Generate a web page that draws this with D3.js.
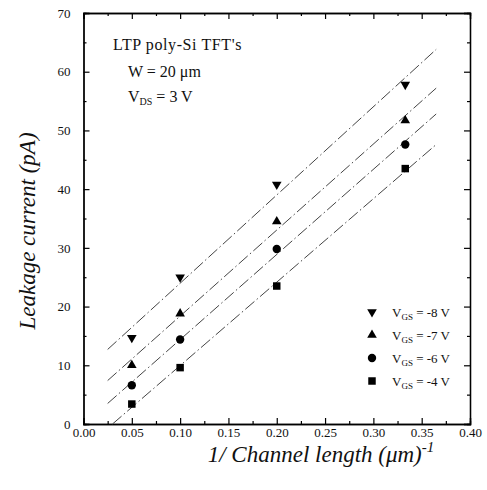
<!DOCTYPE html>
<html lang="en">
<head>
<meta charset="utf-8">
<title>Leakage current vs 1/L</title>
<script src="https://cdn.jsdelivr.net/npm/d3@7"></script>
<style>
  body { margin: 0; background: #fff; }
  text { font-family: "Liberation Serif", "Times New Roman", serif; }
</style>
</head>
<body>
<script>

// -- Data -- //

const invLength = [0.05, 0.10, 0.20, 0.333];
const seriesNames = ["-8 V", "-7 V", "-6 V", "-4 V"];
const leak8 = [14.7, 25.0, 40.8, 57.8];
const leak7 = [10.0, 18.8, 34.5, 51.7];
const leak6 = [6.6, 14.4, 29.8, 47.6];
const leak4 = [3.4, 9.6, 23.5, 43.5];
// fitted lines as drawn: [x start, y start, x end, y end]
const fit8 = [0.025, 12.7, 0.365, 63.8];
const fit7 = [0.025, 7.4, 0.365, 57.2];
const fit6 = [0.025, 3.5, 0.365, 52.8];
const fit4 = [0.030, 0.0, 0.365, 47.6];
const xTicks = [0, 0.05, 0.10, 0.15, 0.20, 0.25, 0.30, 0.35, 0.40];
const yTicks = [0, 10, 20, 30, 40, 50, 60, 70];

const series = [
    { name: seriesNames[0], values: leak8, fit: fit8, symbol: "down" },
    { name: seriesNames[1], values: leak7, fit: fit7, symbol: "up" },
    { name: seriesNames[2], values: leak6, fit: fit6, symbol: "circle" },
    { name: seriesNames[3], values: leak4, fit: fit4, symbol: "square" }
];

// -- Setting -- //

const canvasWidth = 487;
const canvasHeight = 490;
const margin = { top: 13, right: 17, bottom: 66, left: 83.5 };

const svg = d3.select("body")
    .append("svg")
    .attr("width", canvasWidth)
    .attr("height", canvasHeight);

const plot = svg.append("g")
    .attr("transform", `translate(${margin.left},${margin.top})`);

const w = canvasWidth - margin.left - margin.right;
const h = canvasHeight - margin.top - margin.bottom;

const x = d3.scaleLinear().domain([0, 0.40]).range([0, w]);
const y = d3.scaleLinear().domain([0, 70]).range([h, 0]);

// minor ticks half way between majors
const xMinor = xTicks.slice(1).map((t, i) => (t + xTicks[i]) / 2);
const yMinor = yTicks.slice(1).map((t, i) => (t + yTicks[i]) / 2);

// -- Axes -- //

let styleAxis = function(g) {
    g.select(".domain").attr("stroke", "#000").attr("stroke-width", 1.3);
    g.selectAll(".tick line").attr("stroke", "#000").attr("stroke-width", 1.2);
    g.selectAll("text").attr("font-size", 13).attr("fill", "#111");
};

plot.append("g")
    .attr("transform", `translate(0,${h})`)
    .call(d3.axisBottom(x).tickValues(xTicks).tickFormat(d3.format(".2f")).tickSize(-6).tickPadding(4))
    .call(styleAxis);
plot.append("g")
    .attr("transform", `translate(0,${h})`)
    .call(d3.axisBottom(x).tickValues(xMinor).tickFormat("").tickSize(-3))
    .call(styleAxis);

plot.append("g")
    .call(d3.axisLeft(y).tickValues(yTicks).tickSize(-6).tickPadding(13))
    .call(styleAxis);
plot.append("g")
    .call(d3.axisLeft(y).tickValues(yMinor).tickFormat("").tickSize(-3))
    .call(styleAxis);

plot.append("g")
    .call(d3.axisTop(x).tickValues(xTicks).tickFormat("").tickSize(-6))
    .call(styleAxis);
plot.append("g")
    .call(d3.axisTop(x).tickValues(xMinor).tickFormat("").tickSize(-3))
    .call(styleAxis);

plot.append("g")
    .attr("transform", `translate(${w},0)`)
    .call(d3.axisRight(y).tickValues(yTicks).tickFormat("").tickSize(-6))
    .call(styleAxis);
plot.append("g")
    .attr("transform", `translate(${w},0)`)
    .call(d3.axisRight(y).tickValues(yMinor).tickFormat("").tickSize(-3))
    .call(styleAxis);

// -- Fit lines -- //

plot.append("g")
    .selectAll("line")
    .data(series)
    .join("line")
        .attr("x1", d => x(d.fit[0]))
        .attr("y1", d => y(d.fit[1]))
        .attr("x2", d => x(d.fit[2]))
        .attr("y2", d => y(d.fit[3]))
        .attr("stroke", "#444")
        .attr("stroke-width", 1)
        .attr("stroke-dasharray", "12,3,1.5,3");

// -- Markers -- //

let symbolPath = function(kind) {
    if (kind === "down") return d3.symbol().type(d3.symbolTriangle).size(40)().replace(/(-?\d+\.?\d*),(-?\d+\.?\d*)/g, (m, a, b) => `${a},${-b}`);
    if (kind === "up") return d3.symbol().type(d3.symbolTriangle).size(40)();
    if (kind === "circle") return d3.symbol().type(d3.symbolCircle).size(55)();
    return d3.symbol().type(d3.symbolSquare).size(56)();
};

series.forEach(function(s) {
    plot.append("g")
        .selectAll("path")
        .data(s.values)
        .join("path")
            .attr("d", symbolPath(s.symbol))
            .attr("transform", (d, i) => `translate(${x(invLength[i])},${y(d)})`)
            .attr("fill", "#000");
});

// -- Legend -- //

const legendX = 372;
const legendY = 312;
const legendStep = 23;

const legend = svg.append("g");
series.forEach(function(s, i) {
    const ly = legendY + i * legendStep;
    legend.append("path")
        .attr("d", symbolPath(s.symbol))
        .attr("transform", `translate(${legendX},${ly})`)
        .attr("fill", "#000");
    const t = legend.append("text")
        .attr("x", legendX + 20)
        .attr("y", ly + 5)
        .attr("font-size", 13)
        .attr("fill", "#111");
    t.append("tspan").text("V");
    t.append("tspan").attr("font-size", 9).attr("dy", 3).text("GS");
    t.append("tspan").attr("dy", -3).text(" = " + s.name);
});

// -- Annotation -- //

const note = svg.append("g").attr("fill", "#111").attr("font-size", 16);
note.append("text").attr("x", 113).attr("y", 50).attr("letter-spacing", 0.6).text("LTP poly-Si TFT's");
note.append("text").attr("x", 128).attr("y", 77).text("W = 20 \u03bcm");
const vds = note.append("text").attr("x", 128).attr("y", 102);
vds.append("tspan").text("V");
vds.append("tspan").attr("font-size", 10).attr("dy", 3).text("DS");
vds.append("tspan").attr("dy", -3).text(" = 3 V");

// -- Axis titles -- //

svg.append("text")
    .attr("transform", `translate(35,231) rotate(-90)`)
    .attr("text-anchor", "middle")
    .attr("font-size", 23)
    .attr("font-style", "italic")
    .attr("fill", "#111")
    .text("Leakage current (pA)");

const xt = svg.append("text")
    .attr("x", 321)
    .attr("y", 462)
    .attr("text-anchor", "middle")
    .attr("font-size", 23)
    .attr("font-style", "italic")
    .attr("fill", "#111");
xt.append("tspan").text("1/ Channel length (\u03bcm)");
xt.append("tspan").attr("font-size", 15).attr("dy", -10).text("-1");

</script>
</body>
</html>
